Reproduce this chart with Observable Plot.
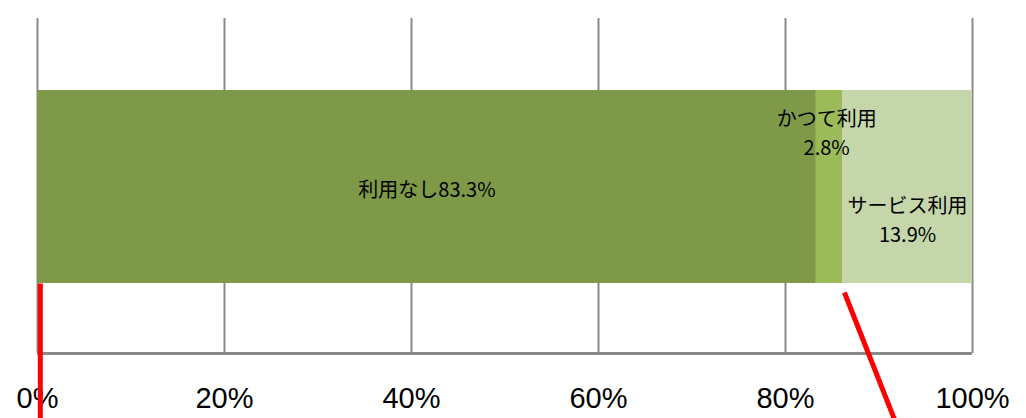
<!DOCTYPE html>
<html><head><meta charset="utf-8">
<script src="https://cdn.jsdelivr.net/npm/d3@7"></script>
<script src="https://cdn.jsdelivr.net/npm/@observablehq/plot@0.6"></script>
<style>body{margin:0;background:#fff;} svg{display:block;overflow:visible}</style>
</head><body><div id="chart"></div>
<script>
const categories = ["利用なし", "かつて利用", "サービス利用"];
const values = [83.3, 2.8, 13.9];
const ticks = [0, 20, 40, 60, 80, 100];
const tickLabels = ["0%", "20%", "40%", "60%", "80%", "100%"];
// red annotation lines (x in %, y in relative chart units, 0 = axis, 1 = top)
const redX1 = [0.3, 86.3];
const redX2 = [0.3, 91.7];
const redY1 = [0.209, 0.182];
const redY2 = [-0.2, -0.2];

const colors = ["#7e9a48", "#9bbb59", "#c4d6aa"];
const barBottom = 0.209, barTop = 0.785;

let acc = 0;
const segs = categories.map((c, i) => {
  const s = {cat: c, v: values[i], x1: acc, x2: acc + values[i], y1: barBottom, y2: barTop};
  acc += values[i];
  return s;
});
const labels = [
  {x: (segs[0].x1 + segs[0].x2) / 2, y: 0.495, text: categories[0] + values[0].toFixed(1) + "%"},
  {x: (segs[1].x1 + segs[1].x2) / 2 - 0.3, y: 0.663, text: categories[1] + "\n" + values[1].toFixed(1) + "%"},
  {x: (segs[2].x1 + segs[2].x2) / 2, y: 0.405, text: categories[2] + "\n" + values[2].toFixed(1) + "%"}
];
const red = redX1.map((x, i) => ({x1: x, x2: redX2[i], y1: redY1[i], y2: redY2[i]}));

const chart = Plot.plot({
  width: 1026, height: 418,
  marginLeft: 37, marginRight: 54, marginTop: 18, marginBottom: 65,
  style: {fontFamily: "'Liberation Sans','Noto Sans CJK JP',sans-serif", background: "#fff", color: "#000"},
  x: {domain: [0, 100]},
  y: {domain: [0, 1], axis: null},
  color: {domain: categories, range: colors},
  marks: [
    Plot.ruleX(ticks, {x: d => d, stroke: "#8a8a8a", strokeWidth: 2}),
    Plot.rect(segs, {x1: "x1", x2: "x2", y1: "y1", y2: "y2", fill: "cat"}),
    Plot.ruleY([0], {stroke: "#8a8a8a", strokeWidth: 3}),
    Plot.axisX({ticks, tickFormat: (d) => tickLabels[ticks.indexOf(d)], tickSize: 0, tickPadding: 34, fontSize: 29, fill: "#000"}),
    Plot.text(labels, {x: "x", y: "y", text: "text", fontSize: 20, lineHeight: 1.45, fill: "#000", fontFamily: "'Noto Sans CJK JP','Liberation Sans',sans-serif"}),
    Plot.link(red, {x1: "x1", x2: "x2", y1: "y1", y2: "y2", stroke: "#ff0000", strokeWidth: 5, clip: false})
  ]
});
document.getElementById("chart").appendChild(chart);
</script></body></html>
